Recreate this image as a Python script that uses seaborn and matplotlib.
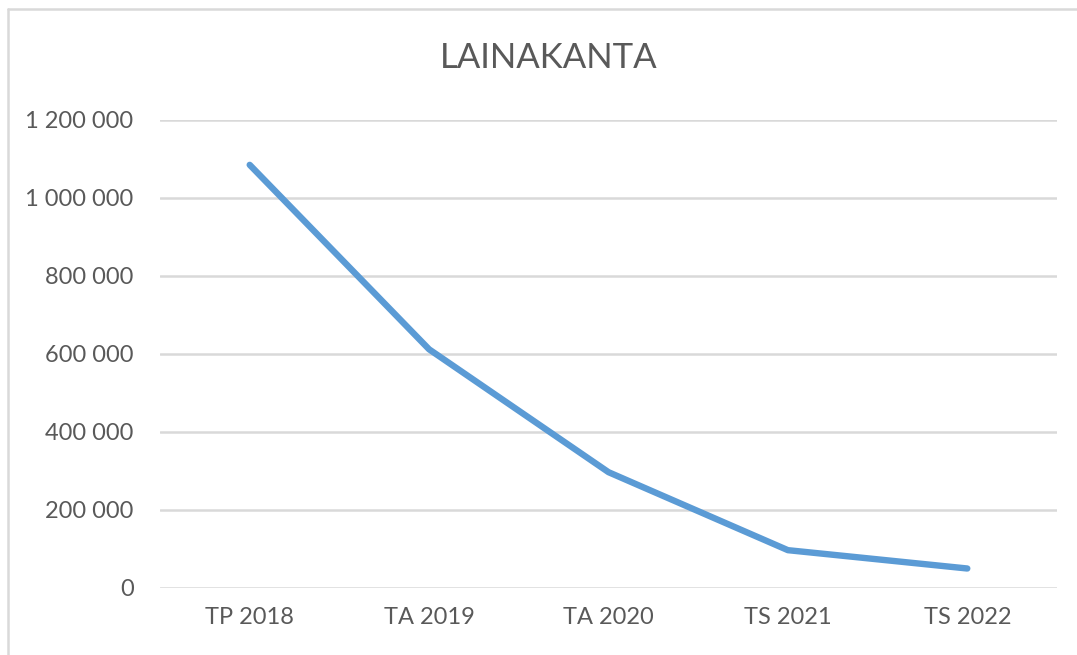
import matplotlib
matplotlib.use("Agg")
import matplotlib.pyplot as plt
import matplotlib.ticker as mticker
import seaborn as sns
import pandas as pd

# chart data
categories = ["TP 2018", "TA 2019", "TA 2020", "TS 2021", "TS 2022"]
lainakanta = [1085000, 612000, 297000, 97000, 50000]
yticks = [0, 200000, 400000, 600000, 800000, 1000000, 1200000]
title = "LAINAKANTA"

df = pd.DataFrame({"vuosi": categories, "lainakanta": lainakanta})

sns.set_theme(style="white")
plt.rcParams["font.family"] = ["Lato", "DejaVu Sans"]

text_col = "#595959"
grid_col = "#D9D9D9"
line_col = "#5B9BD5"

fig = plt.figure(figsize=(10.77, 6.55), dpi=100)
ax = fig.add_axes([160 / 1077, 67 / 655, 897 / 1077, 468 / 655])

sns.lineplot(data=df, x="vuosi", y="lainakanta", ax=ax, color=line_col,
             linewidth=4.6, sort=False, zorder=3,
             solid_capstyle="round", solid_joinstyle="round")

ax.set_xlim(-0.5, len(categories) - 0.5)
ax.set_ylim(0, 1200000)
ax.set_yticks(yticks)
ax.yaxis.set_major_formatter(mticker.FuncFormatter(
    lambda v, p: f"{int(v):,}".replace(",", " ")))
ax.grid(axis="y", color=grid_col, linewidth=1.8)
ax.set_axisbelow(True)
for s in ax.spines.values():
    s.set_visible(False)
ax.tick_params(axis="both", length=0, labelsize=17, colors=text_col)
ax.tick_params(axis="y", pad=19)
ax.tick_params(axis="x", pad=14)
ax.set_xlabel("")
ax.set_ylabel("")

fig.text(549 / 1077, 1 - 58 / 655, title, ha="center", va="center",
         fontsize=25, color=text_col)

# partial frame from the screenshot (left and top edges)
fig.add_artist(plt.Line2D([7.5 / 1077, 7.5 / 1077], [0, 1 - 9 / 655],
                          transform=fig.transFigure, color=grid_col, linewidth=1.8))
fig.add_artist(plt.Line2D([7.5 / 1077, 1], [1 - 9 / 655, 1 - 9 / 655],
                          transform=fig.transFigure, color=grid_col, linewidth=1.8))

fig.savefig("out.png", dpi=100, facecolor="white")
